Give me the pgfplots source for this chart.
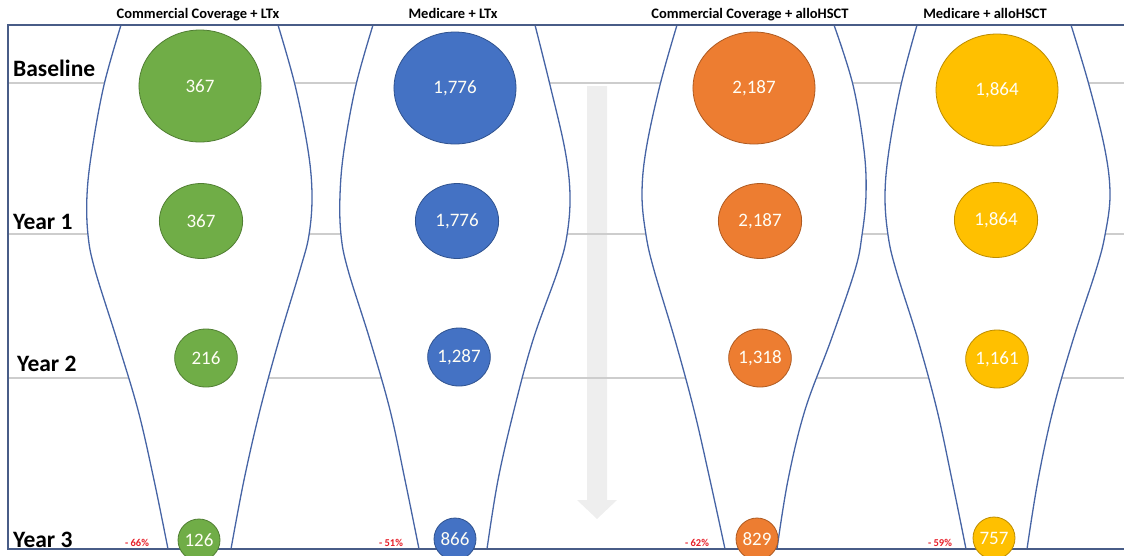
\documentclass[border=0pt]{standalone}
\usepackage{pgfplots}
\pgfplotsset{compat=1.18}
\usepackage{fontspec}
\setmainfont{Carlito}
\definecolor{cg}{RGB}{112,173,71}
\definecolor{cgd}{RGB}{80,126,50}
\definecolor{cb}{RGB}{68,114,196}
\definecolor{cbd}{RGB}{47,82,143}
\definecolor{co}{RGB}{237,125,49}
\definecolor{cod}{RGB}{174,90,33}
\definecolor{cy}{RGB}{255,192,0}
\definecolor{cyd}{RGB}{188,140,0}
\definecolor{framec}{RGB}{72,92,135}
\definecolor{func}{RGB}{70,100,165}
\definecolor{gridc}{RGB}{205,205,205}
\definecolor{arrowc}{RGB}{238,238,238}
\definecolor{pctc}{RGB}{230,30,40}
\newcommand\numfont{\fontsize{19}{20}\selectfont}
\pgfplotsset{
  bub/.style n args={4}{only marks, mark=*, mark size=#1,
    mark options={xscale=#2, fill=#3, draw=#4, line width=0.8pt},
    point meta=explicit symbolic, nodes near coords,
    every node near coord/.append style={anchor=center, text=white!96!yellow, font=\numfont, inner sep=0pt}},
  funnel/.style={func, line width=1.3pt, smooth, tension=0.6},
  funfill/.style={fill=white, draw=none, smooth, tension=0.6},
  gline/.style={gridc, line width=1.2pt},
}
\begin{document}
\begin{tikzpicture}
\begin{axis}[name=ax, scale only axis, width=1124pt, height=555pt,
  xmin=0, xmax=1124, ymin=0, ymax=555, y dir=reverse, hide axis]
% gray arrow
\addplot[fill=arrowc, draw=none] coordinates {(587,86) (607,86) (607,500) (617,500) (597,519) (577,500) (587,500) (587,86)};
% gridlines
\addplot[gline] coordinates {(8,83) (1124,83)};
\addplot[gline] coordinates {(8,234) (1124,234)};
\addplot[gline] coordinates {(8,378) (1124,378)};
% funnel interiors (white) and outlines
\addplot[funfill] coordinates {(121,25) (104,85) (92,150) (87,195) (88,235) (95,270) (117,340) (138,410) (154,480) (168,549)
  (231,549) (244,480) (260,410) (279,340) (300,270) (309,235) (312,195) (308,150) (295,85) (278,25)};
\addplot[funfill] coordinates {(373,25) (356,85) (344,150) (340,195) (341,235) (348,270) (370,340) (390,410) (405,480) (419,549)
  (487,549) (498,480) (514,410) (533,340) (558,270) (567,235) (570,195) (565,150) (550,85) (535,25)};
\addplot[funfill] coordinates {(677,25) (660,85) (646,150) (642,195) (646,235) (654,270) (675,340) (694,410) (710,480) (725,549)
  (777,549) (788,480) (805,410) (831,340) (855,270) (862,235) (866,195) (864,150) (853,85) (834,25)};
\addplot[funfill] coordinates {(917,25) (901,85) (889,150) (885,195) (888,235) (896,270) (918,340) (937,410) (952,480) (966,549)
  (1027,549) (1038,480) (1053,410) (1073,340) (1096,270) (1105,235) (1110,195) (1105,150) (1089,85) (1071,25)};
\addplot[funnel] coordinates {(121,25) (104,85) (92,150) (87,195) (88,235) (95,270) (117,340) (138,410) (154,480) (168,549)};
\addplot[funnel] coordinates {(278,25) (295,85) (308,150) (312,195) (309,235) (300,270) (279,340) (260,410) (244,480) (231,549)};
\addplot[funnel] coordinates {(373,25) (356,85) (344,150) (340,195) (341,235) (348,270) (370,340) (390,410) (405,480) (419,549)};
\addplot[funnel] coordinates {(535,25) (550,85) (565,150) (570,195) (567,235) (558,270) (533,340) (514,410) (498,480) (487,549)};
\addplot[funnel] coordinates {(677,25) (660,85) (646,150) (642,195) (646,235) (654,270) (675,340) (694,410) (710,480) (725,549)};
\addplot[funnel] coordinates {(834,25) (853,85) (864,150) (866,195) (862,235) (855,270) (831,340) (805,410) (788,480) (777,549)};
\addplot[funnel] coordinates {(917,25) (901,85) (889,150) (885,195) (888,235) (896,270) (918,340) (937,410) (952,480) (966,549)};
\addplot[funnel] coordinates {(1071,25) (1089,85) (1105,150) (1110,195) (1105,235) (1096,270) (1073,340) (1053,410) (1038,480) (1027,549)};
% frame
\addplot[framec, line width=1.8pt] coordinates {(1124,25) (8,25) (8,549) (1124,549)};
% bubbles: Baseline
\addplot[bub={56pt}{1.09}{cg}{cgd}] coordinates {(200,86) [367]};
\addplot[bub={56pt}{1.09}{cb}{cbd}] coordinates {(455,88) [{1,776}]};
\addplot[bub={56pt}{1.09}{co}{cod}] coordinates {(754,88) [{2,187}]};
\addplot[bub={56pt}{1.09}{cy}{cyd}] coordinates {(997,90) [{1,864}]};
% Year 1
\addplot[bub={37.5pt}{1.11}{cg}{cgd}] coordinates {(201,221) [367]};
\addplot[bub={37.5pt}{1.11}{cb}{cbd}] coordinates {(457,221) [{1,776}]};
\addplot[bub={37.5pt}{1.11}{co}{cod}] coordinates {(760,221) [{2,187}]};
\addplot[bub={37.5pt}{1.11}{cy}{cyd}] coordinates {(996,220) [{1,864}]};
% Year 2
\addplot[bub={29pt}{1.08}{cg}{cgd}] coordinates {(206,358) [216]};
\addplot[bub={29pt}{1.08}{cb}{cbd}] coordinates {(459,357) [{1,287}]};
\addplot[bub={29pt}{1.08}{co}{cod}] coordinates {(760,358) [{1,318}]};
\addplot[bub={29pt}{1.08}{cy}{cyd}] coordinates {(997,359) [{1,161}]};
% Year 3
\addplot[bub={21pt}{1.0}{cg}{cgd}] coordinates {(199,540) [126]};
\addplot[bub={21pt}{1.0}{cb}{cbd}] coordinates {(455,539) [866]};
\addplot[bub={21pt}{1.0}{co}{cod}] coordinates {(757,539) [829]};
\addplot[bub={21pt}{1.0}{cy}{cyd}] coordinates {(994,538) [757]};
% titles
\node[anchor=base, font=\bfseries\fontsize{14.5}{15}\selectfont] at (axis cs:198,18) {Commercial Coverage + LTx};
\node[anchor=base, font=\bfseries\fontsize{14.5}{15}\selectfont] at (axis cs:453,18) {Medicare + LTx};
\node[anchor=base, font=\bfseries\fontsize{14.5}{15}\selectfont] at (axis cs:750,18) {Commercial Coverage + alloHSCT};
\node[anchor=base, font=\bfseries\fontsize{14.5}{15}\selectfont] at (axis cs:985,18) {Medicare + alloHSCT};
% row labels
\node[anchor=base west, inner sep=0pt, font=\bfseries\fontsize{23.5}{24}\selectfont] at (axis cs:13,76) {Baseline};
\node[anchor=base west, inner sep=0pt, font=\bfseries\fontsize{23.5}{24}\selectfont] at (axis cs:13,229) {Year 1};
\node[anchor=base west, inner sep=0pt, font=\bfseries\fontsize{23.5}{24}\selectfont] at (axis cs:17,371) {Year 2};
\node[anchor=base west, inner sep=0pt, font=\bfseries\fontsize{23.5}{24}\selectfont] at (axis cs:13,547) {Year 3};
% percentages
\node[anchor=base, text=pctc, font=\bfseries\fontsize{10.5}{11}\selectfont] at (axis cs:137,546) {- 66\%};
\node[anchor=base, text=pctc, font=\bfseries\fontsize{10.5}{11}\selectfont] at (axis cs:391,546) {- 51\%};
\node[anchor=base, text=pctc, font=\bfseries\fontsize{10.5}{11}\selectfont] at (axis cs:697,546) {- 62\%};
\node[anchor=base, text=pctc, font=\bfseries\fontsize{10.5}{11}\selectfont] at (axis cs:940,546) {- 59\%};
\end{axis}
\pgfresetboundingbox
\path[use as bounding box] (ax.south west) rectangle (ax.north east);
\end{tikzpicture}
\end{document}
